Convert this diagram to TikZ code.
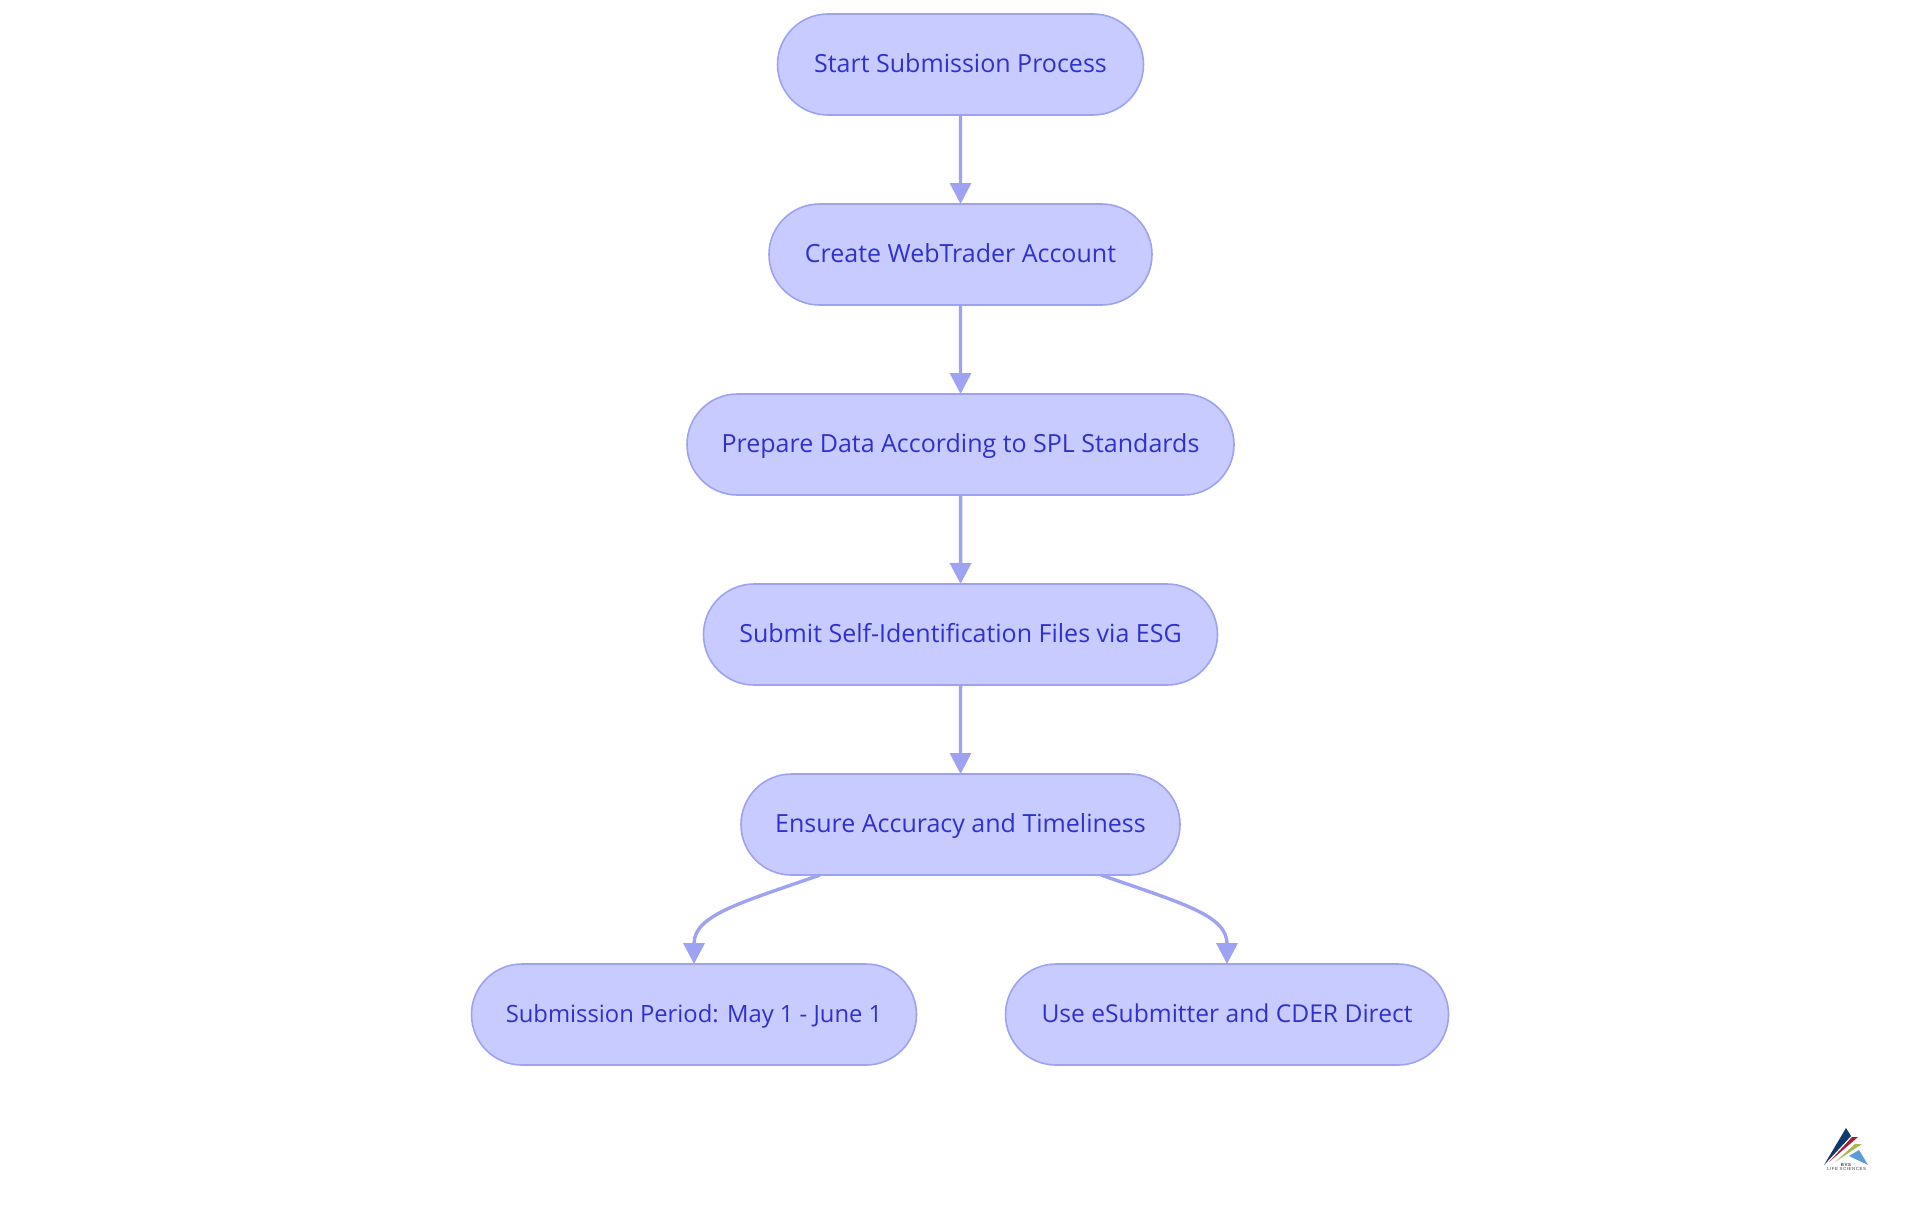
\documentclass[tikz,border=0pt]{standalone}
\usepackage{fontspec}
\usepackage{tikz}
\usetikzlibrary{shapes.misc,arrows.meta}
\setmainfont{Open Sans}
\newfontfamily\logofont[LetterSpace=12]{Liberation Sans}
\definecolor{boxfill}{HTML}{C8CBFF}
\definecolor{boxline}{HTML}{9DA2F2}
\definecolor{boxtext}{HTML}{2F31CE}
\definecolor{logonavy}{HTML}{0C3A6E}
\definecolor{logored}{HTML}{A81C32}
\definecolor{logogreen}{HTML}{A6BA52}
\definecolor{logoblue}{HTML}{5B9BDC}
\definecolor{logotext}{HTML}{3A4050}
\tikzset{
  flowbox/.style={shape=rounded rectangle,draw=boxline,fill=boxfill,line width=0.8pt,
    text=boxtext,font=\fontsize{12.5}{15}\selectfont,minimum height=50.5pt,inner sep=0pt,
    outer sep=0pt,text height=10pt,text depth=2.2pt},
  flowline/.style={draw=boxline,line width=1.7pt,-{Triangle[length=10.5pt,width=10.5pt]}},
  logotag/.style={text=logotext,inner sep=0pt}
}
\begin{document}
\begin{tikzpicture}[x=0.5pt,y=-0.5pt]
\useasboundingbox (0,0) rectangle (1920,1215);
\node[flowbox,minimum width=183pt] (A) at (960.5,64.5) {Start Submission Process};
\node[flowbox,minimum width=191.5pt] (B) at (960.5,254.5) {Create WebTrader Account};
\node[flowbox,minimum width=273.5pt] (C) at (960.5,444.5) {Prepare Data According to SPL Standards};
\node[flowbox,minimum width=257pt] (D) at (960.5,634.5) {Submit Self-Identification Files via ESG};
\node[flowbox,minimum width=219.5pt] (E) at (960.5,824.5) {Ensure Accuracy and Timeliness};
\node[flowbox,minimum width=222.5pt,font=\fontsize{11.9}{15}\selectfont] (F) at (694,1014.5) {Submission Period: May 1 - June 1};
\node[flowbox,minimum width=221.5pt,font=\fontsize{12.3}{15}\selectfont] (G) at (1227,1014.5) {Use eSubmitter and CDER Direct};
\coordinate (EF) at (820,875);
\coordinate (EG) at (1101,875);
\path [flowline] (A) -- (B);
\path [flowline] (B) -- (C);
\path [flowline] (C) -- (D);
\path [flowline] (D) -- (E);
\path [flowline] (EF) .. controls (740,903) and (694,915) .. (F.north);
\path [flowline] (EG) .. controls (1181,903) and (1227,915) .. (G.north);
\fill[logonavy] (1846,1128) -- (1851,1136) -- (1824,1165) -- cycle;
\fill[logored] (1852,1137) -- (1858,1137) -- (1829,1162) -- cycle;
\fill[logogreen] (1855,1144) -- (1862,1144) -- (1835,1162) -- cycle;
\fill[logoblue] (1859,1150) -- (1849,1156) -- (1868,1165) -- cycle;
\node[logotag,font=\logofont\bfseries\fontsize{2.2}{2.6}\selectfont] (logotop) at (1846,1164.5) {BVS};
\node[logotag,font=\logofont\fontsize{2.2}{2.6}\selectfont] (logobottom) at (1846.5,1169) {LIFE SCIENCES};
\end{tikzpicture}
\end{document}
